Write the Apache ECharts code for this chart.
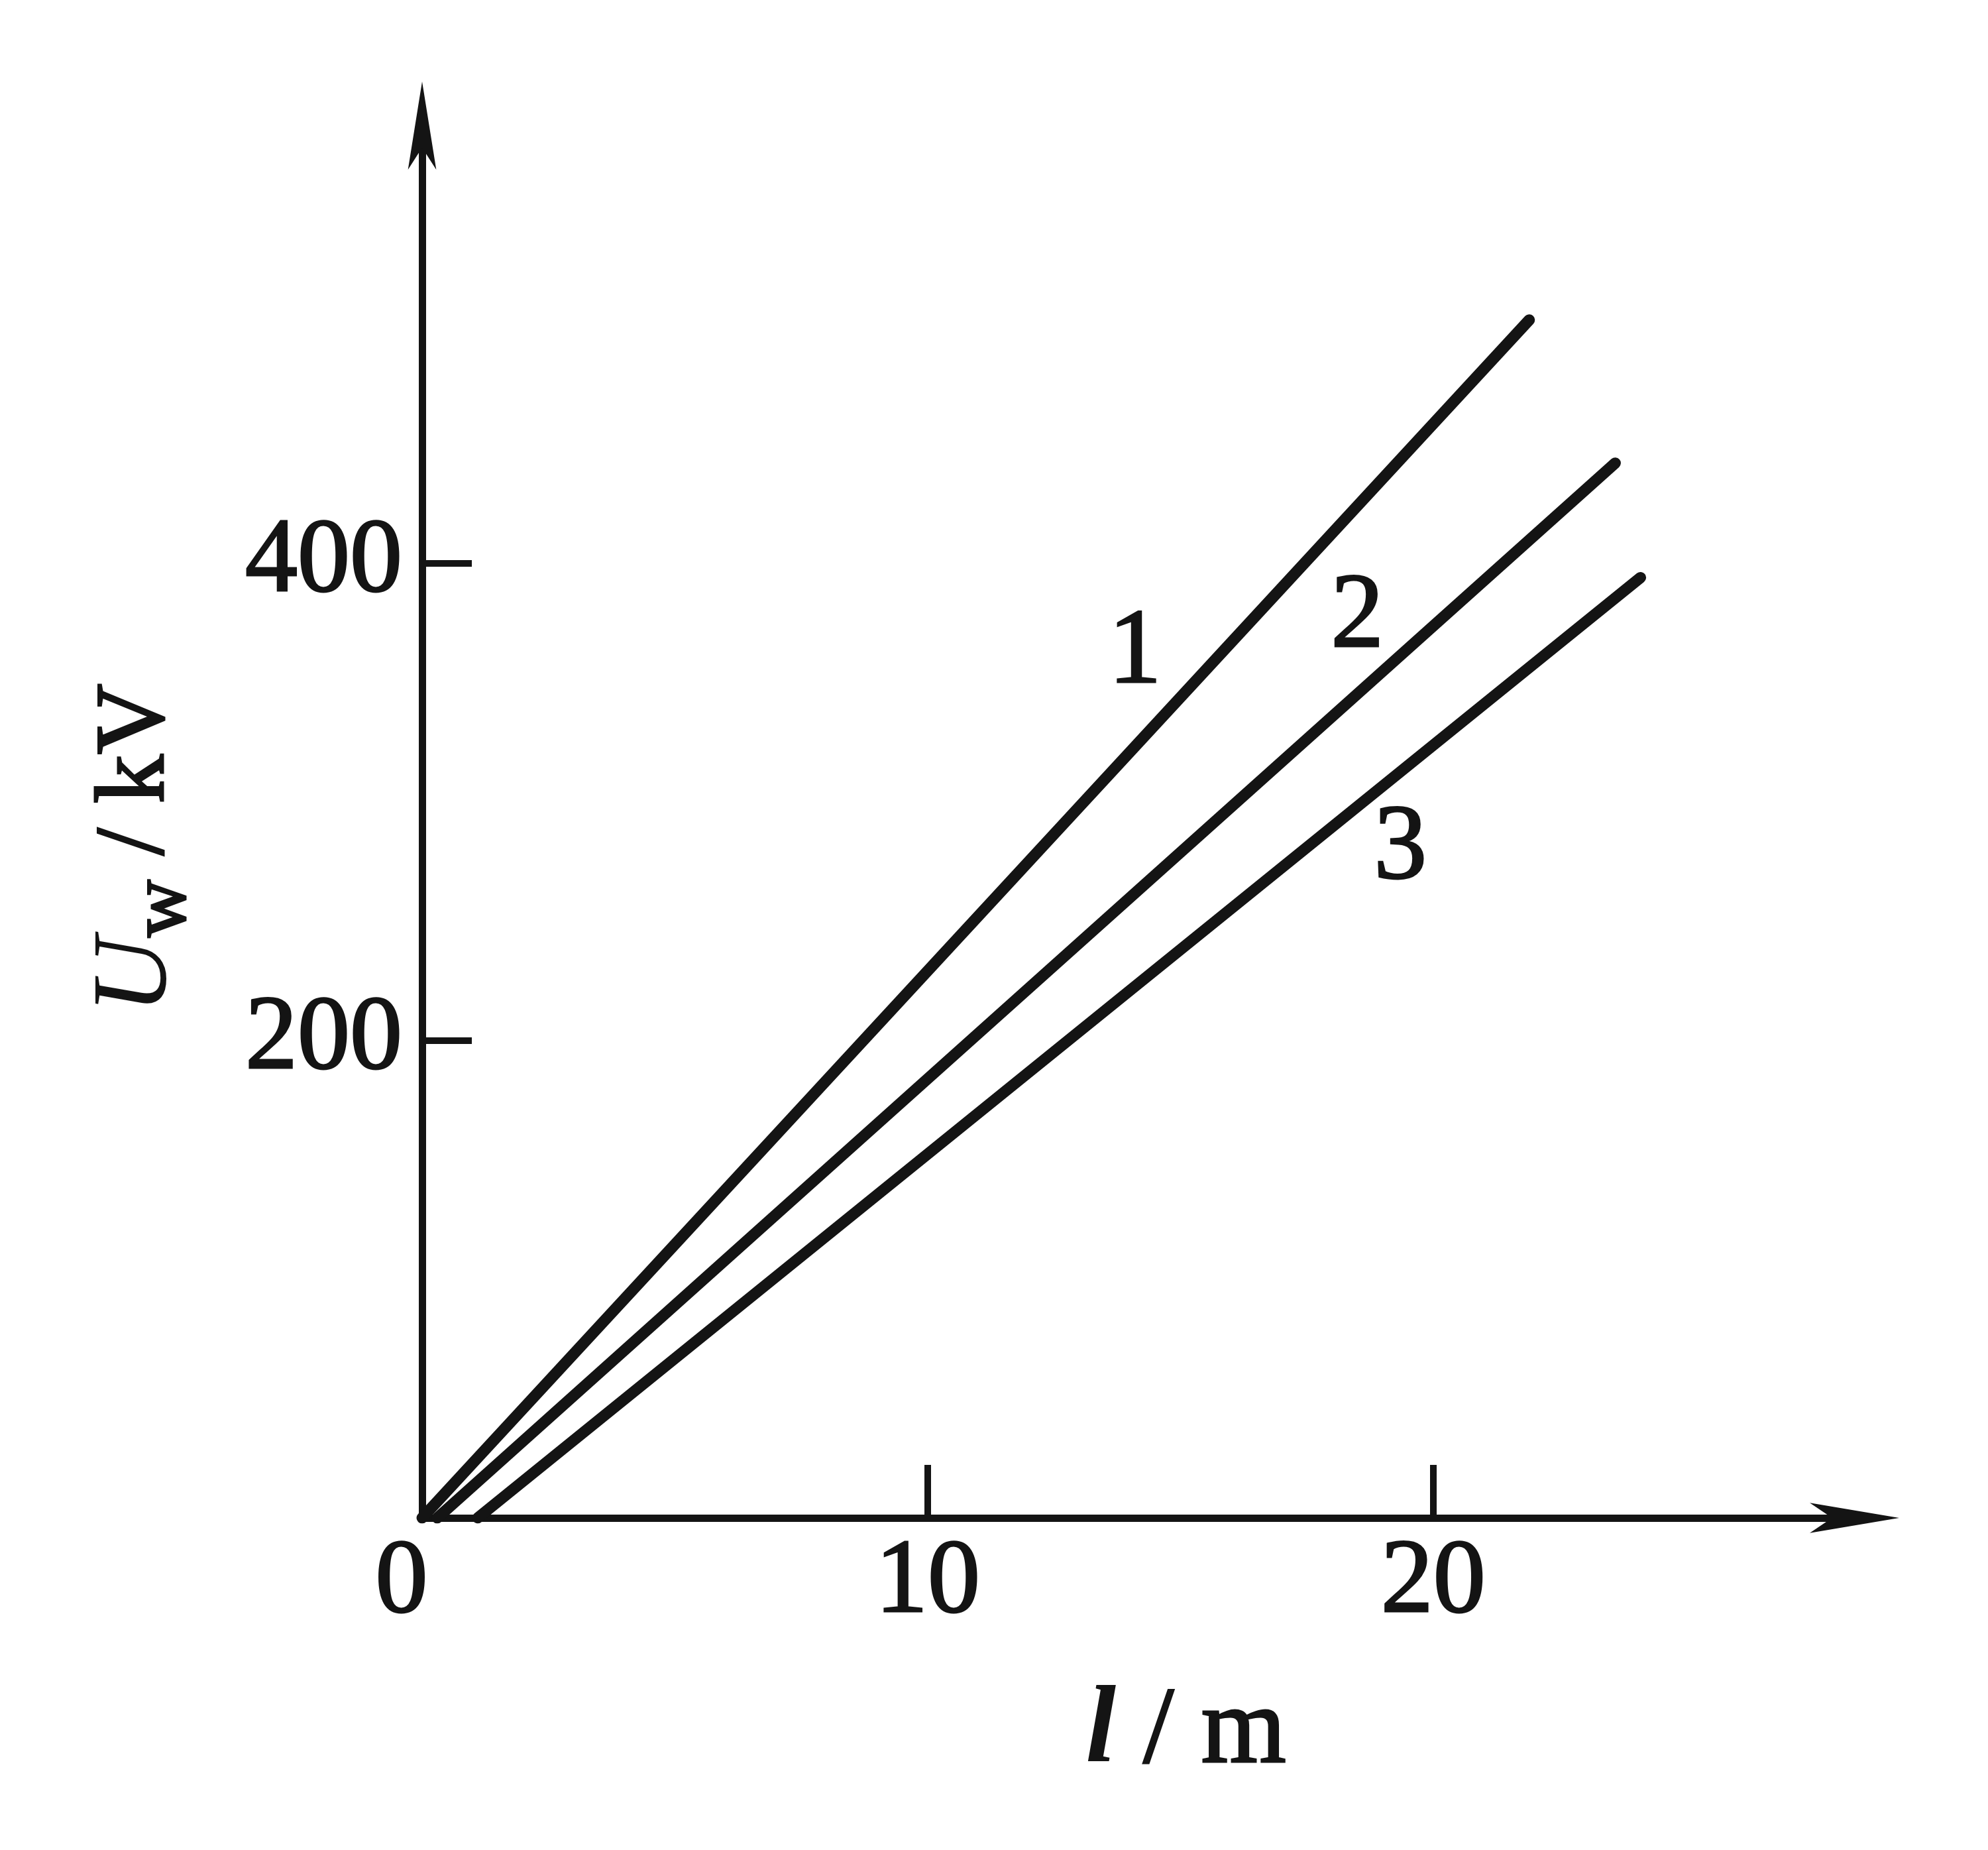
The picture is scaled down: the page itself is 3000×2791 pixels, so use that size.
<!DOCTYPE html>
<html>
<head>
<meta charset="utf-8">
<title>Uw - l</title>
<script src="https://cdn.jsdelivr.net/npm/echarts@6/dist/echarts.min.js"></script>
<style>
    html, body { margin: 0; padding: 0; background: #fff; }
    #chart { width: 3000px; height: 2791px; }
</style>
</head>
<body>
<div id="chart"></div>
<script>
// values (l in m, Uw in kV)
const xTickValues = [10, 20];
const xLabelValues = [0, 10, 20];
const yTickValues = [200, 400];
const curveNames = ['1', '2', '3'];
const curve1 = [[0, 0], [21.9, 502]];
const curve2 = [[0.3, 0], [23.6, 442]];
const curve3 = [[1.1, 0], [24.1, 394]];
const curveLabelAt = [[14.1, 362], [18.5, 377], [19.35, 280]];

const ink = '#141414';
const serif = 'Liberation Serif';

const chart = echarts.init(document.getElementById('chart'));

const curves = [curve1, curve2, curve3];
const series = curves.map(function (pts, i) {
    return {
        name: curveNames[i],
        type: 'line',
        data: pts,
        symbol: 'none',
        silent: true,
        lineStyle: { color: ink, width: 17, cap: 'round' },
        markPoint: {
            symbol: 'circle',
            symbolSize: 1,
            itemStyle: { color: 'rgba(0,0,0,0)' },
            label: {
                show: true,
                position: 'inside',
                formatter: '{b}',
                color: ink,
                fontFamily: serif,
                fontSize: 160,
                textBorderColor: ink,
                textBorderWidth: 3
            },
            data: [{ name: curveNames[i], coord: curveLabelAt[i] }]
        }
    };
});

const option = {
    backgroundColor: '#fff',
    animation: false,
    grid: { left: 637, top: 191, right: 204, bottom: 501 },
    xAxis: {
        type: 'value',
        min: 0,
        max: 28.3,
        name: '{i|l}{n| / m}',
        nameLocation: 'middle',
        nameGap: 242,
        nameTextStyle: {
            padding: [0, 0, 0, 146],
            rich: {
                i: { fontFamily: serif, fontStyle: 'italic', fontWeight: 'bold', fontSize: 165, color: ink },
                n: { fontFamily: serif, fontSize: 165, color: ink, textBorderColor: ink, textBorderWidth: 3 }
            }
        },
        splitLine: { show: false },
        axisLine: {
            lineStyle: { color: ink, width: 11 },
            symbol: ['none', 'arrow'],
            symbolSize: [34, 135],
            symbolOffset: [0, 70]
        },
        axisTick: {
            show: true,
            inside: true,
            length: 80,
            customValues: xTickValues,
            lineStyle: { color: ink, width: 10 }
        },
        axisLabel: {
            customValues: xLabelValues,
            margin: 20,
            color: ink,
            fontFamily: serif,
            fontSize: 158,
            textBorderColor: ink,
            textBorderWidth: 3,
            formatter: function (v) { return v === 0 ? '{z|0}' : String(v); },
            rich: {
                z: { fontFamily: serif, fontSize: 158, color: ink, textBorderColor: ink, textBorderWidth: 3, padding: [0, 62, 0, 0] }
            }
        }
    },
    yAxis: {
        type: 'value',
        min: 0,
        max: 583,
        name: '{u|U}{w|w}{n| / kV}',
        nameLocation: 'middle',
        nameGap: 330,
        nameTextStyle: {
            padding: [0, 80, 0, 0],
            rich: {
                u: { fontFamily: serif, fontStyle: 'italic', fontSize: 160, color: ink },
                w: { fontFamily: serif, fontSize: 120, color: ink, textBorderColor: ink, textBorderWidth: 3, padding: [80, 0, 0, 0], verticalAlign: 'bottom' },
                n: { fontFamily: serif, fontSize: 148, color: ink, textBorderColor: ink, textBorderWidth: 3 }
            }
        },
        splitLine: { show: false },
        axisLine: {
            lineStyle: { color: ink, width: 11 },
            symbol: ['none', 'arrow'],
            symbolSize: [32, 133],
            symbolOffset: [0, 68]
        },
        axisTick: {
            show: true,
            inside: true,
            length: 75,
            customValues: yTickValues,
            lineStyle: { color: ink, width: 10 }
        },
        axisLabel: {
            customValues: yTickValues,
            margin: 30,
            color: ink,
            fontFamily: serif,
            fontSize: 158,
            textBorderColor: ink,
            textBorderWidth: 3
        }
    },
    series: series
};

chart.setOption(option);
</script>
</body>
</html>
